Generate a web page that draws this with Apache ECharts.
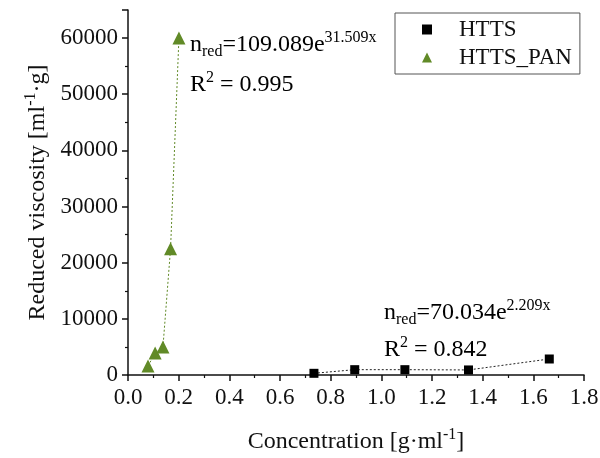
<!DOCTYPE html>
<html>
<head>
<meta charset="utf-8">
<script src="https://cdn.jsdelivr.net/npm/echarts@6/dist/echarts.min.js"></script>
<style>html,body{margin:0;padding:0;background:#fff}#c{width:600px;height:458px}</style>
</head>
<body>
<div id="c"></div>
<script>
// Data
const httsX = [0.734, 0.895, 1.093, 1.344, 1.663];
const httsY = [300, 950, 950, 900, 2850];
const panX = [0.079, 0.107, 0.138, 0.168, 0.201];
const panY = [1600, 3900, 5000, 22500, 60000];
const seriesNames = ['HTTS', 'HTTS_PAN'];
const xTicks = ['0.0','0.2','0.4','0.6','0.8','1.0','1.2','1.4','1.6','1.8'];
const yTicks = ['0','10000','20000','30000','40000','50000','60000'];

const FF = 'Liberation Serif';
const green = '#618a27';
const pairs = (xs, ys) => xs.map((x, i) => [x, ys[i]]);

const chart = echarts.init(document.getElementById('c'), null, {renderer: 'canvas'});
const rich = {
  n: {fontFamily: FF, fontSize: 24, color: '#111', lineHeight: 30},
  sub: {fontFamily: FF, fontSize: 16, color: '#111', lineHeight: 30, verticalAlign: 'bottom'},
  sup: {fontFamily: FF, fontSize: 16, color: '#111', lineHeight: 30, verticalAlign: 'top'}
};
chart.setOption({
  backgroundColor: '#fff',
  animation: false,
  grid: {left: 128, right: 16, top: 10, bottom: 83, containLabel: false, outerBoundsMode: 'none'},
  legend: {
    orient: 'vertical', left: 395, top: 13,
    padding: [5, 8, 5, 27],
    itemGap: 5, itemWidth: 10, itemHeight: 10,
    borderColor: '#555', borderWidth: 1,
    data: [{name: seriesNames[0], icon: 'rect'}, {name: seriesNames[1], icon: 'triangle'}],
    textStyle: {fontFamily: FF, fontSize: 23, color: '#111', padding: [0, 0, 0, 22]}
  },
  xAxis: {
    type: 'value', min: 0, max: 1.8, interval: 0.2,
    splitLine: {show: false},
    axisLine: {onZero: false, lineStyle: {color: '#111', width: 1.5}},
    axisTick: {inside: false, length: 6, lineStyle: {color: '#111', width: 1.5}},
    minorTick: {show: true, splitNumber: 2, length: 3, lineStyle: {color: '#111', width: 1.2}},
    axisLabel: {fontFamily: FF, fontSize: 23, color: '#111', margin: 11,
      formatter: (v) => xTicks[Math.round(v / 0.2)] || ''},
    name: '{n|Concentration [g·ml}{sup|-1}{n|]}',
    nameLocation: 'middle', nameGap: 52,
    nameTextStyle: {rich: rich}
  },
  yAxis: {
    type: 'value', min: 0, max: 65000, interval: 10000,
    splitLine: {show: false},
    axisLine: {onZero: false, lineStyle: {color: '#111', width: 1.5}},
    axisTick: {inside: false, length: 6, lineStyle: {color: '#111', width: 1.5}},
    minorTick: {show: true, splitNumber: 2, length: 3, lineStyle: {color: '#111', width: 1.2}},
    axisLabel: {fontFamily: FF, fontSize: 23, color: '#111', margin: 10, showMaxLabel: false,
      formatter: (v) => (v % 10000 === 0 && yTicks[v / 10000] !== undefined) ? yTicks[v / 10000] : ''},
    name: '{n|Reduced viscosity [ml}{sup|-1}{n|·g]}',
    nameLocation: 'middle', nameGap: 73, nameRotate: 90,
    nameTextStyle: {rich: rich}
  },
  series: [
    {
      type: 'line', data: pairs(httsX, httsY), showSymbol: false, silent: true,
      lineStyle: {color: '#222', width: 1, type: [2, 2]}, z: 1
    },
    {
      type: 'line', data: pairs(panX, panY), showSymbol: false, silent: true,
      lineStyle: {color: green, width: 1, type: [2, 2]}, z: 1
    },
    {
      name: seriesNames[0], type: 'scatter', data: pairs(httsX, httsY),
      symbol: 'rect', symbolSize: 9, itemStyle: {color: '#000', opacity: 1}, z: 3
    },
    {
      name: seriesNames[1], type: 'scatter', data: pairs(panX, panY),
      symbol: 'triangle', symbolSize: 13, itemStyle: {color: green, opacity: 1}, z: 3
    }
  ],
  graphic: [
    {type: 'text', left: 190, top: 30, style: {text: '{n|n}{sub|red}{n|=109.089e}{sup|31.509x}', rich: rich}},
    {type: 'text', left: 190, top: 70, style: {text: '{n|R}{sup|2}{n| = 0.995}', rich: rich}},
    {type: 'text', left: 384, top: 298, style: {text: '{n|n}{sub|red}{n|=70.034e}{sup|2.209x}', rich: rich}},
    {type: 'text', left: 384, top: 335, style: {text: '{n|R}{sup|2}{n| = 0.842}', rich: rich}}
  ]
});
</script>
</body>
</html>
